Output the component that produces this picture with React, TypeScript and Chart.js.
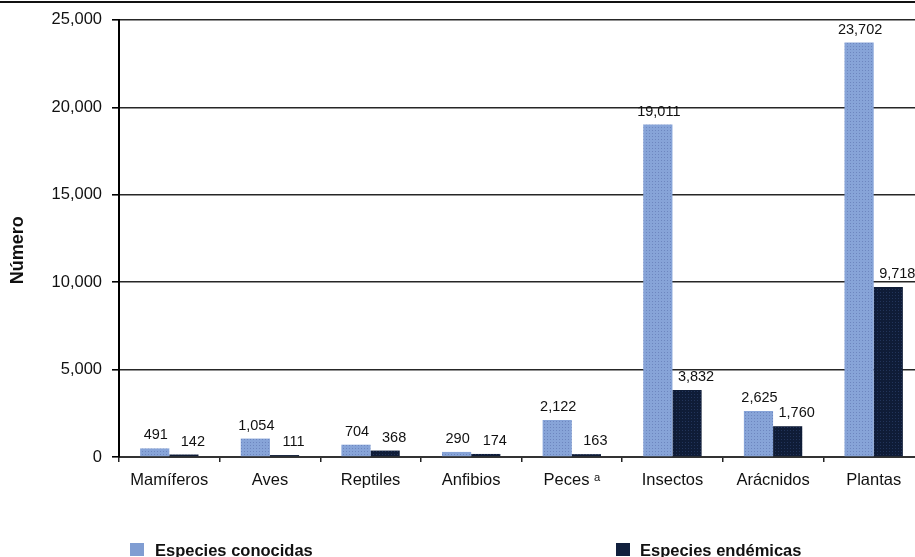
import React, { useEffect, useRef } from "react";
import { Chart, registerables } from "chart.js";

Chart.register(...registerables);

const categories = ["Mamíferos", "Aves", "Reptiles", "Anfibios", "Peces ᵃ", "Insectos", "Arácnidos", "Plantas"];
const knownSpecies = [491, 1054, 704, 290, 2122, 19011, 2625, 23702];
const endemicSpecies = [142, 111, 368, 174, 163, 3832, 1760, 9718];
const yTicks = [0, 5000, 10000, 15000, 20000, 25000];
const seriesNames = ["Especies conocidas", "Especies endémicas"];
const yTitle = "Número";

const FONT = '"Liberation Sans", Arial, Helvetica, sans-serif';
const KNOWN_COLOR = "#809dd2";
const ENDEMIC_COLOR = "#11203d";

const fmt = (v: number) => v.toLocaleString("en-US");

// Small halftone-like fill for the bars
function makePattern(base: string, dot: string): CanvasPattern | string {
  const c = document.createElement("canvas");
  c.width = 3;
  c.height = 3;
  const g = c.getContext("2d");
  if (!g) return base;
  g.fillStyle = base;
  g.fillRect(0, 0, 3, 3);
  g.fillStyle = dot;
  g.fillRect(1, 1, 1, 1);
  const p = g.createPattern(c, "repeat");
  return p || base;
}

// Value labels above each bar; the endemic series sits a little to the right
const valueLabels = {
  id: "valueLabels",
  afterDatasetsDraw(chart: any) {
    const ctx = chart.ctx;
    ctx.save();
    ctx.font = `14.5px ${FONT}`;
    ctx.fillStyle = "#111";
    ctx.textAlign = "center";
    ctx.textBaseline = "alphabetic";
    chart.data.datasets.forEach((ds: any, i: number) => {
      const dx = i === 1 ? 9 : 1;
      chart.getDatasetMeta(i).data.forEach((bar: any, j: number) => {
        ctx.fillText(fmt(ds.data[j]), bar.x + dx, bar.y - 9);
      });
    });
    ctx.restore();
  },
};

// Rotated y-axis title
const yAxisTitle = {
  id: "yAxisTitle",
  afterDraw(chart: any) {
    const ctx = chart.ctx;
    const area = chart.chartArea;
    ctx.save();
    ctx.font = `bold 18px ${FONT}`;
    ctx.fillStyle = "#111";
    ctx.textAlign = "center";
    ctx.textBaseline = "middle";
    ctx.translate(18, area.top + (area.bottom - area.top) * 0.527);
    ctx.rotate(-Math.PI / 2);
    ctx.fillText(yTitle, 0, 0);
    ctx.restore();
  },
};

export default function App() {
  const canvasRef = useRef<HTMLCanvasElement | null>(null);

  useEffect(() => {
    const canvas = canvasRef.current;
    if (!canvas) return;
    const chart = new Chart(canvas, {
      type: "bar",
      data: {
        labels: categories,
        datasets: [
          {
            label: seriesNames[0],
            data: knownSpecies,
            backgroundColor: makePattern("#87a4d8", "#6d86bf") as any,
            borderWidth: 0,
            categoryPercentage: 0.58,
            barPercentage: 1,
          },
          {
            label: seriesNames[1],
            data: endemicSpecies,
            backgroundColor: makePattern("#0f1c37", "#22345a") as any,
            borderWidth: 0,
            categoryPercentage: 0.58,
            barPercentage: 1,
          },
        ],
      },
      options: {
        animation: false,
        responsive: false,
        maintainAspectRatio: false,
        layout: { padding: { top: 19, right: 6, bottom: 0, left: 0 } },
        plugins: {
          legend: { display: false },
          tooltip: { enabled: false },
        },
        scales: {
          x: {
            grid: {
              display: true,
              drawOnChartArea: false,
              offset: true,
              tickLength: 5,
              color: "#222",
              lineWidth: 1.5,
            },
            border: { color: "#333", width: 2 },
            ticks: {
              font: { family: FONT, size: 16.5 },
              color: "#111",
              padding: 9,
              maxRotation: 0,
              autoSkip: false,
            },
            afterFit: (s: any) => {
              s.height = 100;
            },
          },
          y: {
            min: 0,
            max: 25000,
            afterBuildTicks: (s: any) => {
              s.ticks = yTicks.map((v) => ({ value: v }));
            },
            ticks: {
              callback: (v: any) => fmt(Number(v)),
              font: { family: FONT, size: 16.5 },
              color: "#111",
              padding: 10,
            },
            grid: {
              color: "#262626",
              lineWidth: 1.6,
              tickLength: 7,
              tickColor: "#000",
            },
            border: { color: "#000", width: 2 },
            afterFit: (s: any) => {
              s.width = 119;
            },
          },
        },
      },
      plugins: [valueLabels, yAxisTitle],
    });
    return () => chart.destroy();
  }, []);

  const legendText: React.CSSProperties = {
    position: "absolute",
    top: 540,
    fontFamily: FONT,
    fontWeight: "bold",
    fontSize: 16.5,
    lineHeight: "20px",
    color: "#111",
    whiteSpace: "nowrap",
  };
  const legendBox: React.CSSProperties = {
    position: "absolute",
    top: 543,
    width: 14,
    height: 13,
  };

  return (
    <div
      style={{
        position: "fixed",
        left: 0,
        top: 0,
        width: 915,
        height: 557,
        overflow: "hidden",
        background: "#fff",
      }}
    >
      <div style={{ position: "absolute", left: 0, top: 1, width: 915, height: 2, background: "#111" }} />
      <canvas
        ref={canvasRef}
        width={930}
        height={557}
        style={{ position: "absolute", left: 0, top: 0, width: 930, height: 557 }}
      />
      <div style={{ ...legendBox, left: 130, background: KNOWN_COLOR }} />
      <div style={{ ...legendText, left: 155 }}>{seriesNames[0]}</div>
      <div style={{ ...legendBox, left: 616, background: ENDEMIC_COLOR }} />
      <div style={{ ...legendText, left: 640 }}>{seriesNames[1]}</div>
    </div>
  );
}
